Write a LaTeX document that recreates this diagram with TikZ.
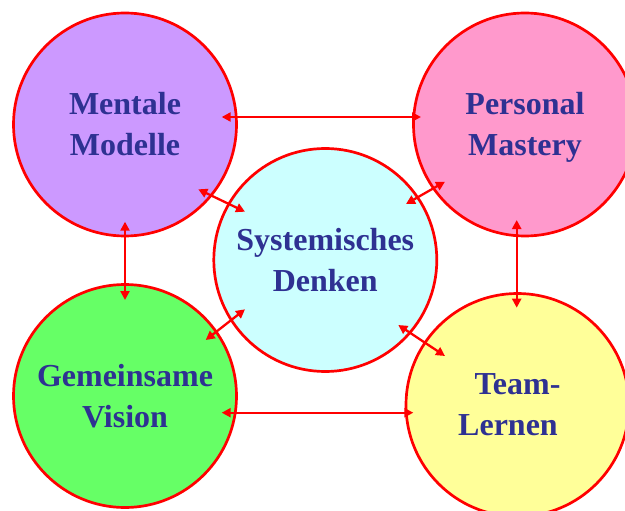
\documentclass[tikz,border=0pt]{standalone}
\usepackage{fontspec}
\setmainfont{Liberation Serif}
\usetikzlibrary{arrows.meta}
\definecolor{ringred}{RGB}{255,0,0}
\definecolor{labelblue}{RGB}{46,49,146}
\definecolor{lilac}{RGB}{204,153,255}
\definecolor{rose}{RGB}{255,153,204}
\definecolor{icecyan}{RGB}{204,255,255}
\definecolor{lightgreen}{RGB}{102,255,102}
\definecolor{paleyellow}{RGB}{255,255,153}
\tikzset{
  discipline/.style={circle, draw=ringred, line width=2.7pt, minimum size=223pt,
    inner sep=0pt, align=center, text=labelblue,
    font=\fontsize{32}{41}\selectfont\bfseries},
  link/.style={draw=ringred, line width=2.3pt,
    {Triangle[length=9pt,width=9pt]}-{Triangle[length=9pt,width=9pt]}}
}
\begin{document}
\begin{tikzpicture}[x=1pt,y=-1pt]
\useasboundingbox (0,0) rectangle (625,511);
% the descender of the last line is ignored so all labels sit alike
\node[discipline, fill=lilac] (mm) at (125,124.5) {Mentale\\Modelle};
\node[discipline, fill=rose] (pm) at (525,124.5) {Personal\\Master\smash{y}};
\node[discipline, fill=icecyan] (sd) at (325.3,260) {Systemisches\\Denken};
\node[discipline, fill=lightgreen] (gv) at (125,396) {Gemeinsame\\Vision};
\node[discipline, fill=paleyellow] (tl) at (517.5,405) {Team-\\Lernen\hspace*{19pt}};
% connections between the outer disciplines
\draw[link] ([shift={(96.7,-7.5)}]mm.center) -- ([shift={(-104,-7.5)}]pm.center);
\draw[link] ([shift={(96.7,16.7)}]gv.center) -- ([shift={(-104.2,7.7)}]tl.center);
\draw[link] ([shift={(0,97.2)}]mm.center) -- ([shift={(0,-96)}]gv.center);
\draw[link] ([shift={(-8.3,95.5)}]pm.center) -- ([shift={(-0.8,-97.3)}]tl.center);
% connections to the centre
\draw[link] ([shift={(73.3,64.8)}]mm.center) -- ([shift={(-80.3,-48.3)}]sd.center);
\draw[link] ([shift={(-80,57.2)}]pm.center) -- ([shift={(80.7,-56)}]sd.center);
\draw[link] ([shift={(80.7,-56)}]gv.center) -- ([shift={(-80.3,49.3)}]sd.center);
\draw[link] ([shift={(-72.5,-49)}]tl.center) -- ([shift={(73,65)}]sd.center);
\end{tikzpicture}
\end{document}
